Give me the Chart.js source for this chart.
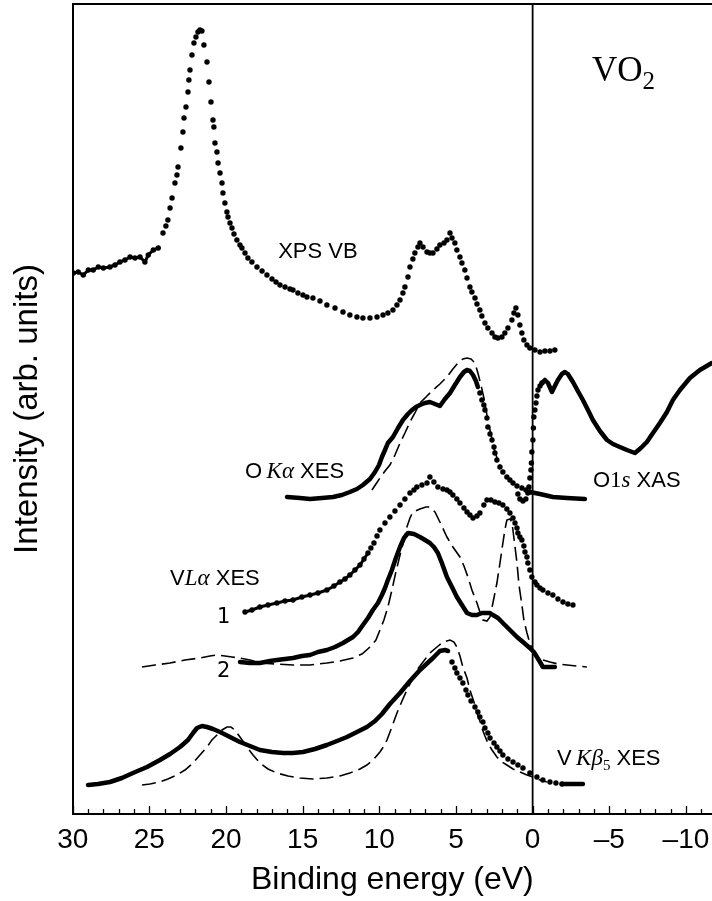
<!DOCTYPE html>
<html>
<head>
<meta charset="utf-8">
<script src="https://cdn.jsdelivr.net/npm/chart.js@4.4.1/dist/chart.umd.min.js"></script>
<style>
html,body{margin:0;padding:0;background:#fff;}
#wrap{width:712px;height:901px;}
</style>
</head>
<body>
<div id="wrap"><canvas id="chart" width="712" height="901"></canvas></div>
<script>
'use strict';
// binding energy (eV), intensity (arb. units) pairs
const energyTicks = [30, 25, 20, 15, 10, 5, 0, -5, -10];

const xpsVbFlat = [[29.96,541],[29.64,542],[29.31,539],[28.98,544],[28.66,544],[28.33,547],[28.00,546],[27.57,547],[27.24,549],[26.92,552],[26.59,554],[26.26,557],[25.94,556],[25.61,557],[25.29,552],[25.07,559],[24.74,564],[24.42,566]];
const xpsVb = [[24.11,581],[23.92,588],[23.79,594],[23.65,606],[23.52,616],[23.33,631],[23.20,639],[23.13,647],[22.94,666],[22.81,682],[22.74,696],[22.61,707],[22.48,722],[22.42,734],[22.35,744],[22.22,759],[22.09,771],[21.96,777],[21.83,782],[21.70,784],[21.57,783],[21.44,769],[21.24,752],[21.11,732],[20.98,712],[20.85,694],[20.79,687],[20.72,671],[20.59,662],[20.52,651],[20.39,641],[20.26,631],[20.20,621],[20.07,611],[19.94,602],[19.87,597],[19.74,591],[19.61,586],[19.48,580],[19.29,574],[19.09,569],[18.96,566],[18.76,561],[18.57,556],[18.31,552],[17.98,547],[17.65,543],[17.33,539],[17.00,535],[16.74,532],[16.48,529],[16.15,527],[15.83,525],[15.63,524],[15.31,521],[14.98,519],[14.72,517],[14.33,516],[13.87,513],[13.42,509],[12.89,506],[12.37,502],[11.92,499],[11.46,497],[11.07,496],[10.61,496],[10.15,497],[9.76,499],[9.44,501],[9.11,504],[8.85,509],[8.65,514],[8.46,521],[8.33,527],[8.13,537],[8.00,547],[7.81,555],[7.68,561],[7.48,567],[7.35,571],[7.15,567],[6.89,562],[6.70,561],[6.50,561],[6.24,565],[6.05,569],[5.78,571],[5.59,574],[5.39,581],[5.26,576],[5.07,571],[4.94,564],[4.74,557],[4.61,551],[4.42,544],[4.28,536],[4.09,527],[3.96,522],[3.76,516],[3.63,510],[3.44,504],[3.31,498],[3.11,491],[2.92,486],[2.65,481],[2.46,477],[2.26,476],[2.00,477],[1.81,481],[1.61,486],[1.35,494],[1.22,501],[1.09,506],[0.96,499],[0.83,489],[0.70,481],[0.57,474],[0.37,469],[0.18,466],[-0.15,464],[-0.48,462],[-0.80,463],[-1.13,463],[-1.45,464]];

const oKaSolid = [[16.02,317],[15.18,316],[14.52,315],[13.74,316],[13.02,317],[12.44,319],[11.92,322],[11.46,325],[11.07,329],[10.61,335],[10.28,342],[10.02,349],[9.83,357],[9.63,364],[9.44,371],[9.11,377],[8.78,386],[8.46,394],[8.13,400],[7.87,404],[7.61,407],[7.35,409],[7.02,411],[6.70,412],[6.37,410],[6.05,408],[5.72,415],[5.39,421],[5.07,429],[4.74,437],[4.48,442],[4.28,444],[4.09,443],[3.89,439],[3.70,433],[3.57,427]];
const oKaDots = [[3.44,421],[3.31,414],[3.18,409],[3.11,404],[2.98,396],[2.92,387],[2.78,380],[2.65,374],[2.52,367],[2.46,361],[2.33,354],[2.13,347],[1.94,342],[1.68,337],[1.48,334],[1.28,331],[1.02,328],[0.70,326],[0.44,324],[0.18,322]];
const oKaTail = [[0.18,322],[-0.48,320],[-1.32,317],[-2.24,316],[-3.41,315]];
const oKaCalc = [[10.48,324],[10.22,330],[9.96,336],[9.63,343],[9.31,349],[8.98,359],[8.65,371],[8.33,381],[8.00,392],[7.68,401],[7.35,411],[6.89,418],[6.50,424],[6.05,430],[5.59,437],[5.20,445],[4.87,451],[4.55,455],[4.28,456],[4.02,455],[3.76,451],[3.57,441],[3.37,429],[3.18,416],[2.98,399],[2.78,384],[2.46,362],[2.13,348]];

const o1sDots = [[0.96,320],[0.83,315],[0.63,313],[0.44,315],[0.31,321],[0.24,327],[0.18,336],[0.11,344],[0.08,351],[0.05,362],[-0.02,374],[-0.05,386],[-0.08,397],[-0.15,404],[-0.22,411],[-0.28,418],[-0.35,424],[-0.48,428],[-0.61,431]];
const o1sSolid = [[-0.61,431],[-0.80,434],[-1.00,431],[-1.26,422],[-1.45,428],[-1.65,434],[-1.91,440],[-2.11,442],[-2.30,440],[-2.63,432],[-2.95,423],[-3.28,414],[-3.61,404],[-3.93,394],[-4.39,383],[-4.85,374],[-5.24,370],[-5.69,367],[-6.15,364],[-6.67,361],[-7.06,366],[-7.45,372],[-7.85,381],[-8.30,391],[-8.76,402],[-9.15,414],[-9.61,424],[-10.26,436],[-10.91,444],[-11.69,451]];

const vLa1Dense = [[18.76,202],[18.31,204],[17.79,207],[17.26,209],[16.68,211],[16.15,213],[15.63,214],[15.05,217],[14.52,219],[14.00,221],[13.42,224],[12.96,228],[12.57,232],[12.24,235],[11.92,239],[11.59,244],[11.26,249],[11.00,255],[10.74,261]];
const vLa1Dots = [[10.55,266],[10.35,271],[10.15,278],[9.96,284],[9.63,291],[9.31,297],[8.98,303],[8.65,309],[8.33,315],[8.00,321],[7.74,324],[7.55,327],[7.22,329],[6.89,331],[6.70,337],[6.44,332],[6.18,327],[5.85,325],[5.59,324],[5.39,322],[5.20,319],[4.94,315],[4.74,311],[4.48,306],[4.28,302],[4.09,299],[3.89,296],[3.63,298],[3.44,301],[3.18,309],[2.98,314],[2.72,314],[2.46,312],[2.20,311],[1.94,309],[1.68,305],[1.48,301],[1.28,296],[1.15,291],[1.02,286],[0.96,281],[0.83,277],[0.70,274],[0.57,268],[0.50,262],[0.37,257],[0.31,251],[0.18,244],[0.05,237],[-0.15,232],[-0.28,229],[-0.48,226],[-0.67,224],[-1.00,221],[-1.32,219],[-1.65,215],[-1.98,212],[-2.30,210],[-2.63,209]];
const vLa2Solid = [[19.09,152],[18.44,151],[17.79,151],[17.13,153],[16.68,154],[16.15,155],[15.63,156],[15.05,158],[14.52,159],[14.00,162],[13.42,164],[12.89,167],[12.37,171],[12.05,174],[11.72,177],[11.39,182],[11.07,189],[10.74,196],[10.42,204],[10.09,211],[9.83,219],[9.63,226],[9.44,234],[9.18,244],[8.92,256],[8.65,267],[8.39,276],[8.13,281],[7.74,280],[7.35,277],[7.02,274],[6.70,271],[6.44,267],[6.18,261],[5.92,251],[5.59,237],[5.26,227],[4.94,217],[4.61,209],[4.28,201],[3.96,199],[3.63,199],[3.31,201],[2.98,201],[2.78,201],[2.59,199],[2.26,196],[1.94,191],[1.48,184],[1.02,177],[0.63,172],[0.18,166],[-0.08,162],[-0.28,157],[-0.48,152],[-0.67,147],[-1.00,147],[-1.45,147]];
const vLaCalc = [[25.48,147],[24.63,149],[23.65,151],[22.68,154],[21.70,156],[21.05,158],[20.59,159],[20.07,158],[19.61,157],[19.09,156],[18.44,154],[17.79,151],[16.68,150],[15.63,149],[14.52,149],[13.42,151],[12.57,153],[11.72,156],[11.13,160],[10.61,167],[10.22,174],[9.96,184],[9.70,194],[9.44,207],[9.18,224],[8.92,242],[8.65,259],[8.39,274],[8.20,287],[8.00,296],[7.81,302],[7.35,305],[6.96,307],[6.70,307],[6.37,302],[6.05,292],[5.59,277],[5.20,267],[4.74,257],[4.48,248],[4.22,237],[3.96,224],[3.63,211],[3.44,202],[3.24,194],[2.98,193],[2.78,197],[2.59,211],[2.33,231],[2.13,251],[1.94,271],[1.81,284],[1.68,294],[1.48,295],[1.35,292],[1.22,276],[1.02,251],[0.89,229],[0.70,209],[0.57,194],[0.37,181],[0.18,171],[-0.02,163],[-0.28,157],[-0.67,154],[-1.13,152],[-1.65,150],[-2.24,149],[-2.89,148],[-3.54,147]];

const vKbSolid = [[29.00,29],[28.35,30],[27.57,32],[26.79,36],[26.07,41],[25.15,47],[24.31,54],[23.65,60],[23.00,67],[22.48,74],[22.15,81],[21.89,86],[21.57,88],[21.24,87],[20.85,85],[20.39,82],[19.74,77],[19.09,72],[18.44,68],[17.79,64],[17.00,62],[16.28,61],[15.63,61],[14.98,62],[14.20,65],[13.42,69],[12.76,73],[12.11,77],[11.46,82],[10.81,87],[10.28,93],[9.83,100],[9.31,110],[8.65,121],[8.00,133],[7.35,144],[6.50,156],[6.05,163],[5.72,164],[5.52,163]];
const vKbDots = [[5.26,152],[5.07,146],[4.94,141],[4.74,136],[4.55,131],[4.35,124],[4.22,119],[4.02,113],[3.76,107],[3.57,102],[3.44,97],[3.24,92],[3.11,86],[2.92,81],[2.78,76],[2.52,71],[2.33,67],[2.13,63],[1.94,59],[1.61,55],[1.28,52],[0.96,49],[0.63,46],[0.18,41],[-0.28,37],[-0.67,34],[-1.13,32],[-1.52,31],[-1.91,30]];
const vKbTail = [[-1.91,30],[-2.56,30],[-3.28,30]];
const vKbCalc = [[25.48,29],[24.96,30],[24.31,32],[23.79,35],[23.20,39],[22.68,44],[22.15,51],[21.70,59],[21.24,67],[20.92,74],[20.59,79],[20.26,84],[19.94,87],[19.68,87],[19.42,84],[19.09,77],[18.63,67],[18.24,59],[17.79,51],[17.26,45],[16.68,41],[15.96,38],[15.18,36],[14.33,35],[13.42,36],[12.57,38],[11.92,41],[11.26,45],[10.81,49],[10.35,55],[9.96,62],[9.70,68],[9.50,74],[9.18,87],[8.85,101],[8.52,113],[8.20,124],[7.87,134],[7.55,144],[7.15,152],[6.70,161],[6.24,167],[5.85,172],[5.39,174],[5.13,172],[4.94,167],[4.74,158],[4.55,147],[4.28,136],[4.09,124],[3.83,112],[3.63,101],[3.44,93],[3.31,86],[3.11,78],[2.92,71],[2.65,64],[2.33,57],[2.00,52],[1.68,49],[1.28,45],[0.83,42],[0.37,39],[-0.02,37],[-0.48,34],[-0.93,32]];

const fermiLine = [[0,0],[0,810]];

const SANS = '"Liberation Sans", Arial, sans-serif';
const SERIF = '"Liberation Serif", "Times New Roman", serif';

// text labels: anchor (energy, intensity) at left/baseline, then runs [text, font, dy]
const labels = [
  {e: 16.60, i: 556, runs: [['XPS VB', '22px ' + SANS]]},
  {e: 18.76, i: 336, runs: [['O', '22px ' + SANS], ['\u2009', '22px ' + SANS], ['K\u03b1', 'italic 23px ' + SERIF], [' XES', '22px ' + SANS]]},
  {e: -3.93, i: 327, runs: [['O', '22px ' + SANS], ['1', '23px ' + SERIF], ['s', 'italic 23px ' + SERIF], [' XAS', '22px ' + SANS]]},
  {e: 23.65, i: 229, runs: [['V', '22px ' + SANS], ['L\u03b1', 'italic 23px ' + SERIF], [' XES', '22px ' + SANS]]},
  {e: 20.59, i: 191, runs: [['1', '21px "DejaVu Sans", sans-serif']]},
  {e: 20.59, i: 137, runs: [['2', '21px "DejaVu Sans", sans-serif']]},
  {e: -1.59, i: 49, runs: [['V', '22px ' + SANS], ['\u2009', '22px ' + SANS], ['K\u03b2', 'italic 23px ' + SERIF], ['5', '15px ' + SERIF, 5], [' XES', '22px ' + SANS]]},
  {e: -3.87, i: 733, runs: [['VO', '35px ' + SERIF], ['2', '25px ' + SERIF, 8]]}
];

function pts(a) {
  return a.map(p => ({x: p[0], y: p[1]}));
}
const dots = {showLine: false, pointRadius: 2.7, pointHoverRadius: 0, pointBorderWidth: 0, pointBackgroundColor: '#000'};
const solid = {showLine: true, borderColor: '#000', borderWidth: 4.5, pointRadius: 0, pointHoverRadius: 0, borderJoinStyle: 'round', borderCapStyle: 'round'};
const dashed = {showLine: true, borderColor: '#000', borderWidth: 1.6, borderDash: [14, 6], pointRadius: 0, pointHoverRadius: 0};
const denseDots = Object.assign({}, dots, {showLine: true, borderColor: '#000', borderWidth: 3});

const datasets = [
  Object.assign({data: pts(fermiLine)}, solid, {borderWidth: 1.8, borderCapStyle: 'butt'}),
  Object.assign({data: pts(xpsVbFlat)}, denseDots),
  Object.assign({data: pts(xpsVb)}, dots),
  Object.assign({data: pts(oKaCalc)}, dashed),
  Object.assign({data: pts(oKaSolid)}, solid),
  Object.assign({data: pts(oKaDots)}, dots),
  Object.assign({data: pts(oKaTail)}, solid),
  Object.assign({data: pts(o1sDots)}, dots),
  Object.assign({data: pts(o1sSolid)}, solid),
  Object.assign({data: pts(vLaCalc)}, dashed),
  Object.assign({data: pts(vLa1Dense)}, denseDots),
  Object.assign({data: pts(vLa1Dots)}, dots),
  Object.assign({data: pts(vLa2Solid)}, solid),
  Object.assign({data: pts(vKbCalc)}, dashed),
  Object.assign({data: pts(vKbSolid)}, solid),
  Object.assign({data: pts(vKbDots)}, dots),
  Object.assign({data: pts(vKbTail)}, solid)
];

// inward tick marks + text labels
const extras = {
  id: 'extras',
  afterDraw(chart) {
    const ctx = chart.ctx;
    const xs = chart.scales.x;
    const ys = chart.scales.y;
    const base = chart.chartArea.bottom;
    ctx.save();
    ctx.strokeStyle = '#000';
    ctx.lineWidth = 1.3;
    for (let v = -11; v <= 30; v++) {
      const px = Math.round(xs.getPixelForValue(v)) + 0.5;
      const len = v % 5 === 0 ? 8 : 5;
      ctx.beginPath();
      ctx.moveTo(px, base);
      ctx.lineTo(px, base - len);
      ctx.stroke();
    }
    ctx.fillStyle = '#000';
    ctx.textBaseline = 'alphabetic';
    ctx.textAlign = 'left';
    labels.forEach(lb => {
      let x = xs.getPixelForValue(lb.e);
      const y = ys.getPixelForValue(lb.i);
      lb.runs.forEach(r => {
        ctx.font = r[1];
        ctx.fillText(r[0], x, y + (r[2] || 0));
        x += ctx.measureText(r[0]).width;
      });
    });
    ctx.restore();
  }
};

new Chart(document.getElementById('chart').getContext('2d'), {
  type: 'scatter',
  data: {datasets: datasets},
  options: {
    responsive: false,
    animation: false,
    events: [],
    layout: {padding: 0, autoPadding: false},
    plugins: {legend: {display: false}, tooltip: {enabled: false}},
    scales: {
      x: {
        type: 'linear',
        position: 'bottom',
        reverse: true,
        min: -11.7,
        max: 30,
        afterBuildTicks: s => { s.ticks = energyTicks.map(v => ({value: v})); },
        afterFit: s => { s.height = 87; s.paddingLeft = 0; s.paddingRight = 0; },
        grid: {display: true, drawOnChartArea: false, drawTicks: false},
        border: {display: true, color: '#000', width: 2},
        ticks: {
          color: '#000',
          font: {family: SANS, size: 28, lineHeight: 1.86},
          padding: 0,
          maxRotation: 0,
          autoSkip: false,
          callback: v => (v < 0 ? '\u2013' + Math.abs(v) : String(v))
        },
        title: {display: true, text: 'Binding energy (eV)', color: '#000', font: {family: SANS, size: 32}, padding: {top: 0, bottom: 2}}
      },
      top: {
        type: 'linear',
        position: 'top',
        ticks: {display: false},
        grid: {display: true, drawOnChartArea: false, drawTicks: false},
        border: {display: true, color: '#000', width: 2},
        afterFit: s => { s.height = 4; s.paddingLeft = 0; s.paddingRight = 0; }
      },
      y: {
        type: 'linear',
        position: 'left',
        min: 0,
        max: 810,
        ticks: {display: false},
        grid: {display: true, drawOnChartArea: false, drawTicks: false},
        border: {display: true, color: '#000', width: 2},
        afterFit: s => { s.width = 72.7; },
        title: {display: true, text: 'Intensity (arb. units)', color: '#000', font: {family: SANS, size: 33}, padding: {top: 8, bottom: 0}}
      }
    }
  },
  plugins: [extras]
});
</script>
</body>
</html>
